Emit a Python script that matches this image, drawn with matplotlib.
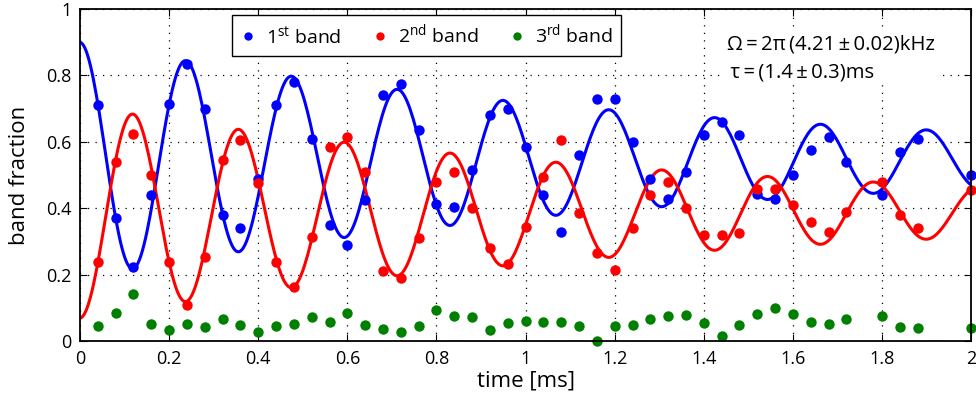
import numpy as np
import matplotlib
matplotlib.use('Agg')
import matplotlib.pyplot as plt
from matplotlib.ticker import MultipleLocator, FormatStrFormatter

plt.rcParams['font.family'] = ['Open Sans', 'DejaVu Sans']
plt.rcParams['mathtext.fontset'] = 'custom'
plt.rcParams['mathtext.rm'] = 'Open Sans'
plt.rcParams['mathtext.it'] = 'Open Sans:italic'

# measured band populations vs hold time (ms)
times = [0.04, 0.08, 0.12, 0.16, 0.20, 0.24, 0.28, 0.32, 0.36, 0.40,
         0.44, 0.48, 0.52, 0.56, 0.60, 0.64, 0.68, 0.72, 0.76, 0.80,
         0.84, 0.88, 0.92, 0.96, 1.00, 1.04, 1.08, 1.12, 1.16, 1.20,
         1.24, 1.28, 1.32, 1.36, 1.40, 1.44, 1.48, 1.52, 1.56, 1.60,
         1.64, 1.68, 1.72, 1.80, 1.84, 1.88, 2.00]
band1 = [0.71, 0.37, 0.225, 0.44, 0.715, 0.835, 0.70, 0.38, 0.34, 0.49,
         0.71, 0.78, 0.61, 0.35, 0.29, 0.425, 0.74, 0.775, 0.635, 0.415,
         0.405, 0.515, 0.68, 0.70, 0.585, 0.44, 0.33, 0.56, 0.73, 0.73,
         0.60, 0.49, 0.43, 0.51, 0.62, 0.66, 0.62, 0.445, 0.43, 0.50,
         0.575, 0.615, 0.54, 0.44, 0.57, 0.61, 0.50]
band2 = [0.24, 0.54, 0.625, 0.50, 0.24, 0.11, 0.255, 0.545, 0.605, 0.477,
         0.24, 0.163, 0.315, 0.585, 0.615, 0.51, 0.213, 0.19, 0.31, 0.48,
         0.51, 0.40, 0.28, 0.234, 0.345, 0.495, 0.605, 0.385, 0.267, 0.216,
         0.34, 0.44, 0.48, 0.40, 0.32, 0.32, 0.325, 0.46, 0.46, 0.41,
         0.36, 0.33, 0.39, 0.48, 0.38, 0.34, 0.455]
band3 = [0.048, 0.087, 0.143, 0.053, 0.035, 0.053, 0.045, 0.068, 0.05, 0.03,
         0.048, 0.053, 0.073, 0.06, 0.087, 0.05, 0.038, 0.028, 0.048, 0.095,
         0.078, 0.075, 0.035, 0.055, 0.063, 0.058, 0.06, 0.048, 0.0, 0.048,
         0.05, 0.068, 0.078, 0.08, 0.057, 0.018, 0.05, 0.083, 0.10, 0.083,
         0.06, 0.053, 0.068, 0.078, 0.045, 0.042, 0.04]

# damped oscillation fit: offset +/- amp * exp(-t/tau) * cos(Omega t)
f_khz = 4.21
tau_ms = 1.4
fit1_offset, fit1_amp = 0.545, 0.355
fit2_offset, fit2_amp = 0.39, -0.32

tt = np.linspace(0, 2, 600)
env = np.exp(-tt / tau_ms) * np.cos(2 * np.pi * f_khz * tt)
fit1 = fit1_offset + fit1_amp * env
fit2 = fit2_offset + fit2_amp * env

blue = '#0000ff'
red = '#ff0000'
green = '#008000'

fig = plt.figure(figsize=(9.76, 4.08), dpi=100)
ax = fig.add_axes([0.082, 0.163, 0.913, 0.815])

ax.plot(tt, fit1, color=blue, lw=2.2)
ax.plot(tt, fit2, color=red, lw=2.2)
ax.plot(times, band1, 'o', color=blue, ms=7.5, mew=0, clip_on=False,
        label=r'1$^{\mathrm{st}}$ band')
ax.plot(times, band2, 'o', color=red, ms=7.5, mew=0, clip_on=False,
        label=r'2$^{\mathrm{nd}}$ band')
ax.plot(times, band3, 'o', color=green, ms=7.5, mew=0, clip_on=False,
        label=r'3$^{\mathrm{rd}}$ band')

ax.set_xlim(0, 2)
ax.set_ylim(0, 1)
ax.xaxis.set_major_locator(MultipleLocator(0.2))
ax.yaxis.set_major_locator(MultipleLocator(0.2))
ax.xaxis.set_major_formatter(FormatStrFormatter('%g'))
ax.yaxis.set_major_formatter(FormatStrFormatter('%g'))
ax.tick_params(direction='in', top=True, right=True, length=5,
               width=0.8, labelsize=13, pad=6)
ax.grid(True, color='k', ls=(0, (1, 5)), lw=0.9)
for sp in ax.spines.values():
    sp.set_linewidth(1.3)

ax.set_xlabel('time [ms]', fontsize=16, labelpad=2)
ax.set_ylabel('band fraction', fontsize=16, labelpad=12)

leg = ax.legend(loc='upper center', bbox_to_anchor=(0.389, 0.982), ncol=3,
                fontsize=14, handlelength=0.8, handletextpad=0.5,
                columnspacing=1.6, markerscale=0.8, fancybox=False,
                framealpha=1, edgecolor='k', borderaxespad=0,
                borderpad=0.45)
leg.get_frame().set_linewidth(1.0)

# fit results, on a white patch so the grid does not run through them
ax.text(0.726, 0.795,
        'Ω\u2009=\u20092π\u2009(4.21\u2009±\u20090.02)kHz\n'
        '\u2009τ\u2009=\u2009(1.4\u2009±\u20090.3)ms',
        transform=ax.transAxes, fontsize=14.6, va='baseline', ha='left',
        linespacing=1.5,
        bbox=dict(facecolor='white', edgecolor='none', pad=2))

fig.savefig('out.png', dpi=100)
